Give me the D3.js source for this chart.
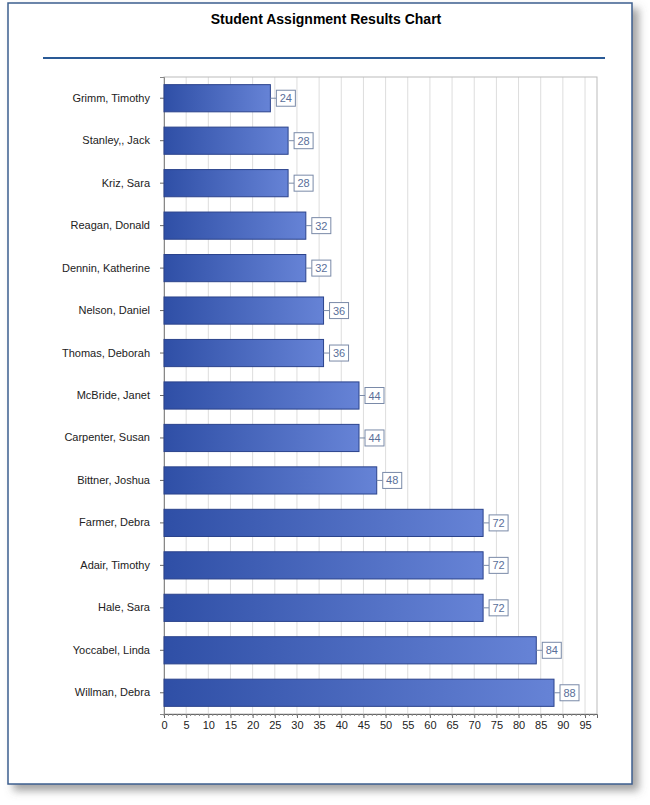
<!DOCTYPE html><html><head><meta charset="utf-8"><script src="https://cdn.jsdelivr.net/npm/d3@7"></script>
<style>body{margin:0;background:#fff;font-family:"Liberation Sans",Arial,sans-serif}</style></head><body><svg id="c" width="650" height="805"></svg>
<script>
const names=["Grimm, Timothy","Stanley,, Jack","Kriz, Sara","Reagan, Donald","Dennin, Katherine","Nelson, Daniel","Thomas, Deborah","McBride, Janet","Carpenter, Susan","Bittner, Joshua","Farmer, Debra","Adair, Timothy","Hale, Sara","Yoccabel, Linda","Willman, Debra"];
const scores=[24,28,28,32,32,36,36,44,44,48,72,72,72,84,88];
const ticks=[0,5,10,15,20,25,30,35,40,45,50,55,60,65,70,75,80,85,90,95];
const svg=d3.select("#c");
const defs=svg.append("defs");
const f=defs.append("filter").attr("id","sh").attr("x","-5%").attr("y","-5%").attr("width","115%").attr("height","115%");
f.append("feDropShadow").attr("dx",6).attr("dy",6).attr("stdDeviation",4).attr("flood-color","#666").attr("flood-opacity",0.6);
const g=defs.append("linearGradient").attr("id","bg");
g.append("stop").attr("offset","0%").attr("stop-color","#2f4fa6");
g.append("stop").attr("offset","100%").attr("stop-color","#6683d6");
svg.append("rect").attr("x",8).attr("y",3).attr("width",624).attr("height",781).attr("fill","#fff").attr("stroke","#3d5f8f").attr("stroke-width",1.5).attr("filter","url(#sh)");
svg.append("text").attr("x",326).attr("y",24).attr("text-anchor","middle").attr("font-weight","bold").attr("font-size",14).text("Student Assignment Results Chart");
svg.append("line").attr("x1",43).attr("x2",605).attr("y1",58).attr("y2",58).attr("stroke","#2a5a96").attr("stroke-width",2);
const L=164,R=597,T=77,B=714;
const x=d3.scaleLinear().domain([0,97.7]).range([L,R]);
const y=d3.scaleBand().domain(names).range([T,B]).paddingInner(0.36).paddingOuter(0.18);
svg.append("g").selectAll("line").data(ticks.slice(1)).join("line").attr("x1",d=>x(d)).attr("x2",d=>x(d)).attr("y1",T).attr("y2",B).attr("stroke","#ddd");
svg.append("rect").attr("x",L).attr("y",T).attr("width",R-L).attr("height",B-T).attr("fill","none").attr("stroke","#bbb");
const xa=svg.append("g").attr("transform",`translate(0,${B})`).call(d3.axisBottom(x).tickValues(ticks).tickSize(4).tickFormat(d3.format("d")));
xa.selectAll("text").attr("font-size",11).attr("fill","#222").attr("font-family","Liberation Sans, Arial");
xa.selectAll("path,line").attr("stroke","#666");
svg.append("g").attr("transform",`translate(0,${B})`).selectAll("line").data(d3.range(0,98,1)).join("line").attr("x1",d=>x(d)).attr("x2",d=>x(d)).attr("y1",0).attr("y2",2).attr("stroke","#888");
const ya=svg.append("g").attr("transform",`translate(${L},0)`).call(d3.axisLeft(y).tickSize(4).tickPadding(10));
ya.select("path").attr("stroke","#888");ya.selectAll("line").attr("stroke","#666");
ya.selectAll("text").attr("font-size",11).attr("fill","#222").attr("font-family","Liberation Sans, Arial");
const bars=svg.append("g").selectAll("g").data(names).join("g");
bars.append("rect").attr("x",L).attr("y",d=>y(d)).attr("width",(d,i)=>x(scores[i])-L).attr("height",y.bandwidth()).attr("fill","url(#bg)").attr("stroke","#2b438c").attr("stroke-width",1);
bars.append("line").attr("x1",(d,i)=>x(scores[i])).attr("x2",(d,i)=>x(scores[i])+6).attr("y1",d=>y(d)+y.bandwidth()/2).attr("y2",d=>y(d)+y.bandwidth()/2).attr("stroke","#7a8aa8");
bars.append("rect").attr("x",(d,i)=>x(scores[i])+6).attr("y",d=>y(d)+y.bandwidth()/2-8).attr("width",19).attr("height",16).attr("fill","#fff").attr("stroke","#7a8aa8");
bars.append("text").attr("x",(d,i)=>x(scores[i])+15.5).attr("y",d=>y(d)+y.bandwidth()/2+4).attr("text-anchor","middle").attr("font-size",11).attr("fill","#5a6f9a").text((d,i)=>scores[i]);
</script></body></html>
